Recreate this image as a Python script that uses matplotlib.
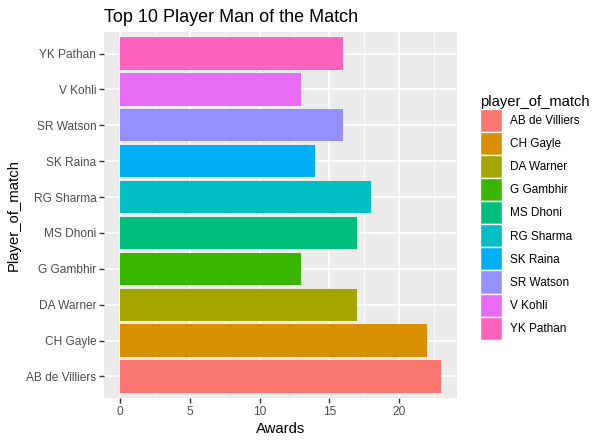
import matplotlib.pyplot as plt
from matplotlib.patches import Patch

players = ["AB de Villiers", "CH Gayle", "DA Warner", "G Gambhir", "MS Dhoni",
           "RG Sharma", "SK Raina", "SR Watson", "V Kohli", "YK Pathan"]
awards = [23, 22, 17, 13, 17, 18, 14, 16, 13, 16]
colors = ["#F8766D", "#D89000", "#A3A500", "#39B600", "#00BF7D",
          "#00BFC4", "#00B0F6", "#9590FF", "#E76BF3", "#FF62BC"]
xticks = [0, 5, 10, 15, 20]

plt.rcParams['font.family'] = ['Liberation Sans', 'DejaVu Sans']

fig = plt.figure(figsize=(6.02, 4.43), dpi=100)
ax = fig.add_axes([104 / 602, 1 - 398 / 443, (457 - 104) / 602, (398 - 32) / 443])
ax.set_facecolor('#EBEBEB')

ypos = list(range(len(players)))
ax.barh(ypos, awards, height=0.9, color=colors, zorder=3)

ax.set_xlim(-1.15, 24.15)
ax.set_ylim(-0.6, len(players) - 0.4)
ax.set_xticks(xticks)
ax.set_xticks([2.5, 7.5, 12.5, 17.5, 22.5], minor=True)
ax.set_yticks(ypos)
ax.set_yticklabels(players)

ax.grid(True, which='major', color='white', linewidth=1.1, zorder=0)
ax.grid(True, which='minor', axis='x', color='white', linewidth=0.55, zorder=0)
for s in ax.spines.values():
    s.set_visible(False)
ax.tick_params(which='major', length=3.5, width=1, color='#333333',
               labelcolor='#4D4D4D', labelsize=8.6, pad=2)
ax.tick_params(which='minor', length=0)

ax.set_xlabel('Awards', fontsize=10.7, labelpad=3)
ax.set_ylabel('Player_of_match', fontsize=10.7, labelpad=4)
ax.set_title('Top 10 Player Man of the Match', loc='left', fontsize=13, pad=7)

handles = [Patch(facecolor=c, edgecolor='white', linewidth=1) for c in colors]
leg = fig.legend(handles, players, loc='upper left',
                 bbox_to_anchor=(471 / 602, 1 - 86 / 443),
                 frameon=False, fontsize=8.45, title='player_of_match',
                 title_fontsize=10.6, handlelength=1.8, handleheight=2.64,
                 handletextpad=0.7, labelspacing=0.0, borderpad=0.3)
leg._legend_box.align = 'left'

fig.savefig('out.png', dpi=100)
